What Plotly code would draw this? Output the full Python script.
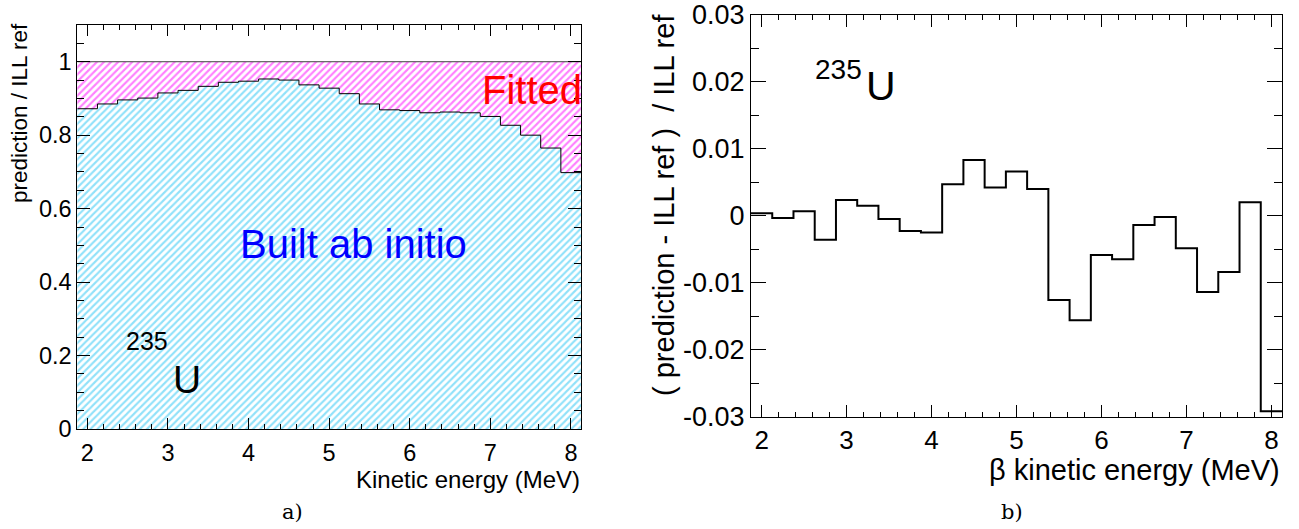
import plotly.graph_objects as go

# ---- data -------------------------------------------------------------
# beta kinetic energy bin centres (MeV), bins are 0.25 MeV wide
energy = [2.0, 2.25, 2.5, 2.75, 3.0, 3.25, 3.5, 3.75, 4.0, 4.25, 4.5, 4.75, 5.0,
          5.25, 5.5, 5.75, 6.0, 6.25, 6.5, 6.75, 7.0, 7.25, 7.5, 7.75, 8.0]
bin_width = 0.25

# a) ab initio prediction / ILL reference
ab_initio_ratio = [0.872, 0.885, 0.896, 0.901, 0.915, 0.922, 0.933, 0.944, 0.947,
                   0.953, 0.950, 0.937, 0.928, 0.913, 0.885, 0.869, 0.867, 0.861,
                   0.863, 0.861, 0.851, 0.827, 0.800, 0.765, 0.698]
ill_ref_level = 1.0

# b) (prediction - ILL ref) / ILL ref
rel_diff = [0.00035, -0.00035, 0.00065, -0.0036, 0.00234, 0.0015, -0.0005, -0.0023,
            -0.0025, 0.0047, 0.0083, 0.0042, 0.0066, 0.0040, -0.01257, -0.0156,
            -0.00585, -0.0065, -0.0014, -0.0002, -0.00485, -0.0114, -0.0084,
            0.0020, -0.0292]

# tick labels
x_tickvals = [2, 3, 4, 5, 6, 7, 8]
x_ticktext = ["2", "3", "4", "5", "6", "7", "8"]
ya_tickvals = [0, 0.2, 0.4, 0.6, 0.8, 1.0]
ya_ticktext = ["0", "0.2", "0.4", "0.6", "0.8", "1"]
yb_tickvals = [-0.03, -0.02, -0.01, 0, 0.01, 0.02, 0.03]
yb_ticktext = ["-0.03", "-0.02", "-0.01", "0", "0.01", "0.02", "0.03"]

# ---- geometry helpers (page pixels -> paper fraction) ---------------------
W, H = 1299, 529


def px(x):
    return x / W


def py(y):
    return 1 - y / H


edges = [e - bin_width / 2 for e in energy] + [energy[-1] + bin_width / 2]
x_range = [edges[0], edges[-1]]

FONT = "Liberation Sans, Arial, Helvetica, sans-serif"
SERIF = "DejaVu Serif, Liberation Serif, serif"
CYAN = "#22c4f4"
MAGENTA = "#ff00ff"

fig = go.Figure()

# ---- panel a ------------------------------------------------------------
fig.add_trace(go.Bar(
    x=energy, y=ab_initio_ratio, width=bin_width,
    marker=dict(color="white", line=dict(width=0),
                pattern=dict(shape="/", fgcolor=CYAN, bgcolor="white",
                             size=5, solidity=0.42)),
    xaxis="x", yaxis="y", showlegend=False, hoverinfo="skip"))
fig.add_trace(go.Bar(
    x=energy, y=[ill_ref_level - r for r in ab_initio_ratio],
    base=ab_initio_ratio, width=bin_width,
    marker=dict(color="white", line=dict(width=0),
                pattern=dict(shape="/", fgcolor=MAGENTA, bgcolor="white",
                             size=5, solidity=0.42)),
    xaxis="x", yaxis="y", showlegend=False, hoverinfo="skip"))
fig.add_trace(go.Scatter(
    x=edges, y=ab_initio_ratio + [ab_initio_ratio[-1]], mode="lines",
    line=dict(color="black", width=1, shape="hv"),
    xaxis="x", yaxis="y", showlegend=False, hoverinfo="skip"))
fig.add_trace(go.Scatter(
    x=x_range, y=[ill_ref_level, ill_ref_level], mode="lines",
    line=dict(color="#404040", width=1),
    xaxis="x", yaxis="y", showlegend=False, hoverinfo="skip"))

# ---- panel b ------------------------------------------------------------
fig.add_trace(go.Scatter(
    x=edges, y=rel_diff + [rel_diff[-1]], mode="lines",
    line=dict(color="black", width=2, shape="hv"),
    xaxis="x2", yaxis="y2", showlegend=False, hoverinfo="skip"))

axis_common = dict(showline=True, linecolor="black", linewidth=1, mirror="allticks",
                   ticks="inside", tickcolor="black", showgrid=False, zeroline=False,
                   fixedrange=True, automargin=False)

fig.update_layout(
    width=W, height=H, margin=dict(l=0, r=0, t=0, b=0, autoexpand=False),
    paper_bgcolor="white", plot_bgcolor="white",
    barmode="overlay", bargap=0,
    font=dict(family=FONT, color="black"),
    xaxis=dict(domain=[px(77.3), px(581)], range=x_range,
               tickvals=x_tickvals, ticktext=x_ticktext, ticklen=11, tickwidth=1,
               minor=dict(dtick=0.2, tick0=2, ticklen=5, ticks="inside", tickcolor="black"),
               tickfont=dict(size=23.5), ticklabelstandoff=3, anchor="y", **axis_common),
    yaxis=dict(domain=[py(429), py(25)], range=[0, 1.1],
               tickvals=ya_tickvals, ticktext=ya_ticktext, ticklen=13, tickwidth=1,
               minor=dict(dtick=0.05, tick0=0, ticklen=7, ticks="inside", tickcolor="black"),
               tickfont=dict(size=23.5), anchor="x", **axis_common),
    xaxis2=dict(domain=[px(751), px(1282)], range=x_range,
                tickvals=x_tickvals, ticktext=x_ticktext, ticklen=12, tickwidth=1,
                minor=dict(dtick=0.2, tick0=2, ticklen=5, ticks="inside", tickcolor="black"),
                tickfont=dict(size=26), anchor="y2", **axis_common),
    yaxis2=dict(domain=[py(416.7), py(14.7)], range=[-0.0300001, 0.0300001],
                tickvals=yb_tickvals, ticktext=yb_ticktext, ticklen=15, tickwidth=1,
                minor=dict(dtick=0.005, tick0=0, ticklen=8, ticks="inside", tickcolor="black"),
                tickfont=dict(size=27), anchor="x2", **axis_common),
)

ann = []
# axis titles
ann.append(dict(text="Kinetic energy (MeV)", x=px(582), y=py(479), xanchor="right",
                yanchor="middle", font=dict(size=24)))
ann.append(dict(text="prediction / ILL ref", x=px(19), y=py(113), xanchor="center",
                yanchor="middle", textangle=-90, font=dict(size=22.5)))
ann.append(dict(text="β kinetic energy (MeV)", x=px(1282), y=py(470), xanchor="right",
                yanchor="middle", font=dict(size=29)))
ann.append(dict(text="( prediction - ILL ref )  / ILL ref", x=px(664), y=py(12),
                xanchor="center", yanchor="top", textangle=-90, font=dict(size=29)))
# labels inside panel a
ann.append(dict(text="Fitted", x=px(480), y=py(90), xanchor="left", yanchor="middle",
                font=dict(size=40, color="#ff0000")))
ann.append(dict(text="Built ab initio", x=px(353), y=py(244), xanchor="center",
                yanchor="middle", font=dict(size=40, color="#0000ff")))
ann.append(dict(text="235", x=px(170), y=py(341), xanchor="right", yanchor="middle",
                font=dict(size=25)))
ann.append(dict(text="U", x=px(171), y=py(379), xanchor="left", yanchor="middle",
                font=dict(size=39)))
# labels inside panel b
ann.append(dict(text="235", x=px(864), y=py(69), xanchor="right", yanchor="middle",
                font=dict(size=28)))
ann.append(dict(text="U", x=px(864), y=py(86), xanchor="left", yanchor="middle",
                font=dict(size=41)))
# panel captions
ann.append(dict(text="a)", x=px(292), y=py(512), xanchor="center", yanchor="middle",
                font=dict(size=21, family=SERIF)))
ann.append(dict(text="b)", x=px(1012), y=py(512), xanchor="center", yanchor="middle",
                font=dict(size=21, family=SERIF)))

for a in ann:
    a.update(xref="paper", yref="paper", showarrow=False)
fig.update_layout(annotations=ann)

fig.write_html("out.html")
